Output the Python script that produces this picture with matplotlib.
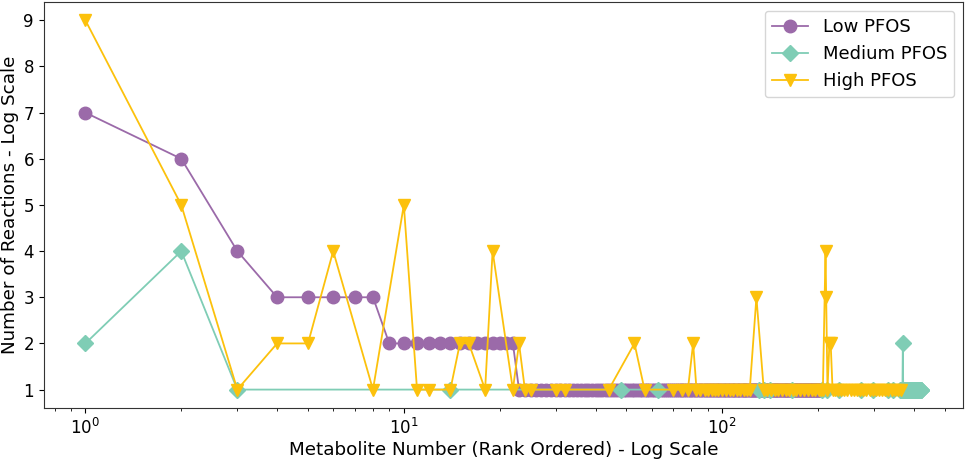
import numpy as np
import matplotlib
matplotlib.use("Agg")
import matplotlib.pyplot as plt

# Low PFOS: ranks 1..205, sorted by reaction count
low_y = [7, 6, 4, 3, 3, 3, 3, 3] + [2] * 14 + [1] * 183
low_x = list(range(1, len(low_y) + 1))

# Medium PFOS: sparse in the middle, dense at the tail
med_x = [1, 2, 3, 14, 48, 63, 130, 135, 141, 166, 206, 213, 233, 273, 297, 331, 343] \
    + list(range(362, 423))
med_y = [2, 4, 1, 1, 1, 1, 1, 1, 1, 1, 1, 1, 1, 1, 1, 1, 1] + [1] * 61
med_y[med_x.index(369)] = 2

# High PFOS
high_x = [1, 2, 3, 4, 5, 6, 8, 10, 11, 12, 14, 15, 16, 18, 19, 22, 23, 24, 25,
          30, 32, 44, 53, 57, 70, 75, 78, 81, 83,
          85, 88, 90, 93, 95, 97, 100, 103, 106, 108, 111, 114, 117, 120, 122,
          128, 135, 138, 142, 146, 150, 154, 158, 162, 167, 171, 176, 181, 186,
          191, 196, 201, 204, 207, 211, 212, 214, 217, 219, 222, 226, 231, 236,
          241, 247, 253, 259, 265, 271, 277, 283, 290, 297, 304, 311, 318, 325,
          332, 340, 348, 356, 364]
high_y = [9, 5, 1, 2, 2, 4, 1, 5, 1, 1, 1, 2, 2, 1, 4, 1, 2, 1, 1,
          1, 1, 1, 2, 1, 1, 1, 1, 2, 1,
          1, 1, 1, 1, 1, 1, 1, 1, 1, 1, 1, 1, 1, 1, 1,
          3, 1, 1, 1, 1, 1, 1, 1, 1, 1, 1, 1, 1, 1,
          1, 1, 1, 1, 1, 4, 3, 1, 2, 2, 1, 1, 1, 1,
          1, 1, 1, 1, 1, 1, 1, 1, 1, 1, 1, 1, 1, 1,
          1, 1, 1, 1, 1]

c_low = "#9b6aa9"
c_med = "#7fcdb5"
c_high = "#fcc10c"

plt.rcParams['font.size'] = 12
plt.rcParams['axes.edgecolor'] = '#333333'

fig = plt.figure(figsize=(9.69, 4.59), dpi=100)
ax = fig.add_subplot(111)
fig.subplots_adjust(left=0.045, right=0.994, top=0.996, bottom=0.111)

ax.plot(low_x, low_y, color=c_low, marker='o', markersize=9, linewidth=1.3, label="Low PFOS")
ax.plot(med_x, med_y, color=c_med, marker='D', markersize=8, linewidth=1.3, label="Medium PFOS")
ax.plot(high_x, high_y, color=c_high, marker='v', markersize=9, linewidth=1.3, label="High PFOS")

ax.set_xscale('log')
ax.set_yticks(range(1, 10))
ax.tick_params(labelsize=12)
ax.set_xlabel("Metabolite Number (Rank Ordered) - Log Scale", fontsize=13.2, labelpad=2)
ax.set_ylabel("Number of Reactions - Log Scale", fontsize=13.2, labelpad=3)
ax.legend(loc='upper right', fontsize=13)

fig.savefig("out.png", dpi=100)
